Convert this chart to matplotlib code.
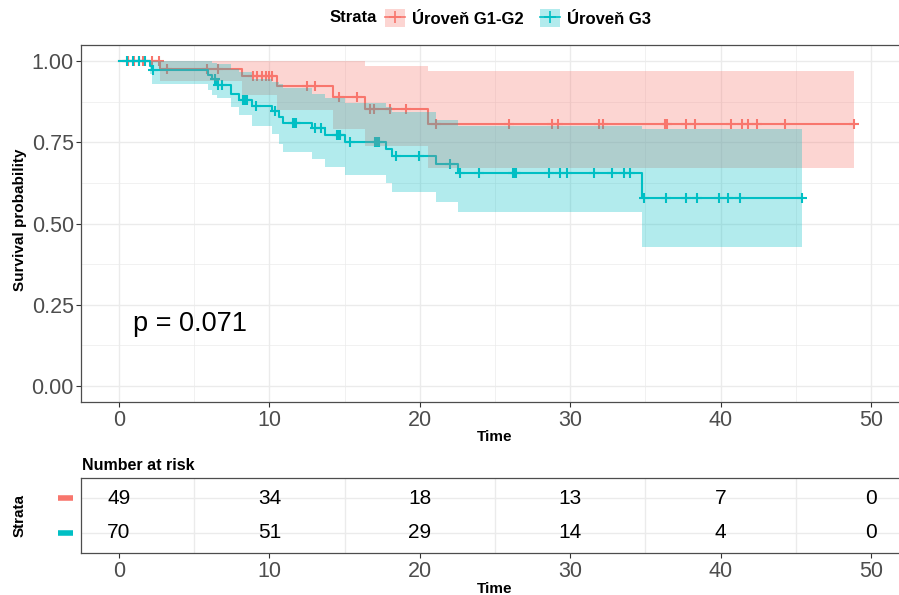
import numpy as np
import matplotlib.pyplot as plt
import matplotlib.transforms as mtransforms
from matplotlib.patches import Patch
from matplotlib.lines import Line2D

plt.rcParams['font.family'] = ['Liberation Sans', 'DejaVu Sans']

strata = ['Úroveň G1-G2', 'Úroveň G3']
colors = ['#F8766D', '#00BFC4']

# Kaplan-Meier estimate, grade G1-G2 (step starts, last entry = end of follow-up)
g12_time = [0, 2.73, 8.16, 10.53, 14.25, 16.36, 20.57, 48.9]
g12_surv = [1.0, 0.975, 0.955, 0.923, 0.888, 0.851, 0.806, 0.806]
g12_upper = [1.0, 1.0, 1.0, 1.0, 1.0, 0.985, 0.968, 0.968]
g12_lower = [1.0, 0.94, 0.895, 0.849, 0.79, 0.738, 0.672, 0.672]
g12_cens = [0.6, 1.0, 1.3, 1.6, 2.17, 2.68, 3.17, 5.83, 6.56, 8.9, 9.2, 9.5,
            9.8, 10.0, 10.2, 12.5, 13.0, 14.65, 15.8, 16.7, 16.95, 18.0,
            19.06, 21.06, 25.9, 28.8, 29.2, 31.9, 32.2, 36.3, 36.45, 37.7,
            38.3, 40.7, 41.4, 41.8, 42.4, 44.3, 48.9]

# Kaplan-Meier estimate, grade G3
g3_time = [0, 2.06, 2.2, 5.94, 6.2, 6.5, 7.45, 8.0, 8.82, 10.15, 10.66, 10.9,
           12.8, 13.7, 15.03, 17.75, 18.13, 21.06, 22.56, 34.75, 45.4]
g3_surv = [1.0, 0.986, 0.972, 0.957, 0.945, 0.926, 0.90, 0.88, 0.862, 0.846,
           0.829, 0.81, 0.793, 0.772, 0.752, 0.73, 0.708, 0.683, 0.654, 0.58,
           0.58]
g3_upper = [1.0, 1.0, 1.0, 1.0, 0.995, 0.99, 0.975, 0.965, 0.945, 0.935,
            0.93, 0.916, 0.90, 0.887, 0.872, 0.86, 0.844, 0.818, 0.80, 0.79,
            0.79]
g3_lower = [1.0, 0.96, 0.93, 0.91, 0.895, 0.885, 0.86, 0.835, 0.80, 0.775,
            0.745, 0.72, 0.697, 0.675, 0.649, 0.624, 0.598, 0.565, 0.535,
            0.429, 0.429]
g3_cens = [0.5, 0.9, 1.3, 1.7, 2.28, 6.4, 6.6, 6.83, 8.25, 8.4, 8.5, 9.1,
           10.4, 11.6, 11.7, 11.8, 13.0, 13.4, 14.5, 14.6, 14.7, 15.36, 17.0,
           17.15, 17.3, 18.4, 19.97, 22.0, 22.7, 23.96, 26.2, 26.3, 26.4,
           28.6, 29.3, 29.8, 31.6, 32.8, 33.6, 34.0, 34.9, 36.4, 37.7, 38.4,
           39.9, 40.5, 41.3, 45.4]

p_label = 'p = 0.071'

# number at risk table
risk_times = [0, 10, 20, 30, 40, 50]
risk_g12 = [49, 34, 18, 13, 7, 0]
risk_g3 = [70, 51, 29, 14, 4, 0]

curves = [
    (g12_time, g12_surv, g12_upper, g12_lower, g12_cens),
    (g3_time, g3_surv, g3_upper, g3_lower, g3_cens),
]

W, H = 899, 595
fig = plt.figure(figsize=(W / 100, H / 100), dpi=100)

grid_col = '#EBEBEB'
tick_col = '#4D4D4D'
frame_col = '#4D4D4D'

# ---- survival curves ----
ax = fig.add_axes([81.4 / W, 1 - 402.3 / H, 827.2 / W, 357.55 / H])
for (t, s, up, lo, cens), col in zip(curves, colors):
    t = np.asarray(t)
    s = np.asarray(s)
    ax.step(t, s, where='post', color=col, lw=1.5, zorder=2)
    idx = np.searchsorted(t, cens, side='right') - 1
    ax.plot(cens, s[idx], ls='none', marker='+', ms=7.5, mew=1.5, color=col,
            zorder=2)
# confidence bands go over both curves
for (t, s, up, lo, cens), col in zip(curves, colors):
    ax.fill_between(t, lo, up, step='post', color=col, alpha=0.3, lw=0,
                    zorder=3)

ax.text(0.9, 0.19, p_label, fontsize=19.5, ha='left', va='center', zorder=4)

ax.set_xlim(-2.5, 52.5)
ax.set_ylim(-0.05, 1.05)
ax.set_xticks(np.arange(0, 51, 10))
ax.set_xticks(np.arange(5, 50, 10), minor=True)
ax.set_yticks([0, 0.25, 0.5, 0.75, 1.0])
ax.set_yticks([0.125, 0.375, 0.625, 0.875], minor=True)
ax.set_yticklabels(['0.00', '0.25', '0.50', '0.75', '1.00'])
ax.grid(which='major', color=grid_col, lw=1.0, zorder=0)
ax.grid(which='minor', color=grid_col, lw=0.5, zorder=0)
ax.set_axisbelow(True)
ax.tick_params(which='major', labelsize=15.5, labelcolor=tick_col,
               color='#333333', length=3.5, width=0.8, pad=2)
ax.tick_params(which='minor', length=0)
for sp in ax.spines.values():
    sp.set_color(frame_col)
    sp.set_linewidth(0.9)

ax.set_xlabel('Time', fontsize=11, fontweight='bold', va='center')
ax.xaxis.set_label_coords(0.5, -(437 - 402.3) / 357.55)
ax.set_ylabel('Survival probability', fontsize=11, fontweight='bold',
              va='center')
ax.yaxis.set_label_coords(-(81.4 - 20) / 827.2, 0.51)

# ---- legend on top ----
handles = [(Line2D([], [], color=c, lw=1.2, marker='+', ms=8, mew=1.2),
            Patch(facecolor=c, alpha=0.3, edgecolor='none'))
           for c in colors]
fig.text(330 / W, 1 - 18 / H, 'Strata', fontsize=12, fontweight='bold',
         ha='left', va='center')
fig.legend(handles, strata, ncol=2, loc='center left',
           bbox_to_anchor=(385 / W, 1 - 18 / H), frameon=False,
           prop={'size': 12, 'weight': 'bold'}, handlelength=1.2,
           handleheight=1.2, handletextpad=0.4, columnspacing=1.0,
           borderaxespad=0, borderpad=0)

# ---- number at risk table ----
rt = fig.add_axes([81.4 / W, 1 - 553 / H, 827.2 / W, 75 / H])
rows = [2, 1]
for row, counts in zip(rows, [risk_g12, risk_g3]):
    for x, n in zip(risk_times, counts):
        rt.text(x, row, str(n), fontsize=15, ha='center', va='center',
                color='black')
rt.set_xlim(-2.5, 52.5)
rt.set_ylim(0.4, 2.6)
rt.set_xticks(np.arange(0, 51, 10))
rt.set_xticks(np.arange(5, 50, 10), minor=True)
rt.set_yticks(rows)
rt.set_yticklabels([])
rt.grid(which='minor', axis='x', color=grid_col, lw=1.0)
rt.grid(which='major', axis='y', color=grid_col, lw=1.0)
rt.set_axisbelow(True)
rt.tick_params(axis='x', which='major', labelsize=15.5, labelcolor=tick_col,
               color='#333333', length=3.5, width=0.8, pad=2)
rt.tick_params(axis='y', length=0)
rt.tick_params(which='minor', length=0)
for sp in rt.spines.values():
    sp.set_color(frame_col)
    sp.set_linewidth(0.9)

# coloured strata keys left of the table
key_tr = mtransforms.blended_transform_factory(fig.transFigure, rt.transData)
for row, col in zip(rows, colors):
    rt.plot([58 / W, 73 / W], [row, row], color=col, lw=4,
            solid_capstyle='butt', transform=key_tr, clip_on=False)

rt.set_xlabel('Time', fontsize=11, fontweight='bold', va='center')
rt.xaxis.set_label_coords(0.5, -(589 - 553) / 75)
rt.set_ylabel('Strata', fontsize=11, fontweight='bold', va='center')
rt.yaxis.set_label_coords(-(81.4 - 20) / 827.2, 0.5)

fig.text(82 / W, 1 - 465 / H, 'Number at risk', fontsize=11.5,
         fontweight='bold', ha='left', va='center')

fig.savefig('out.png', dpi=100)
